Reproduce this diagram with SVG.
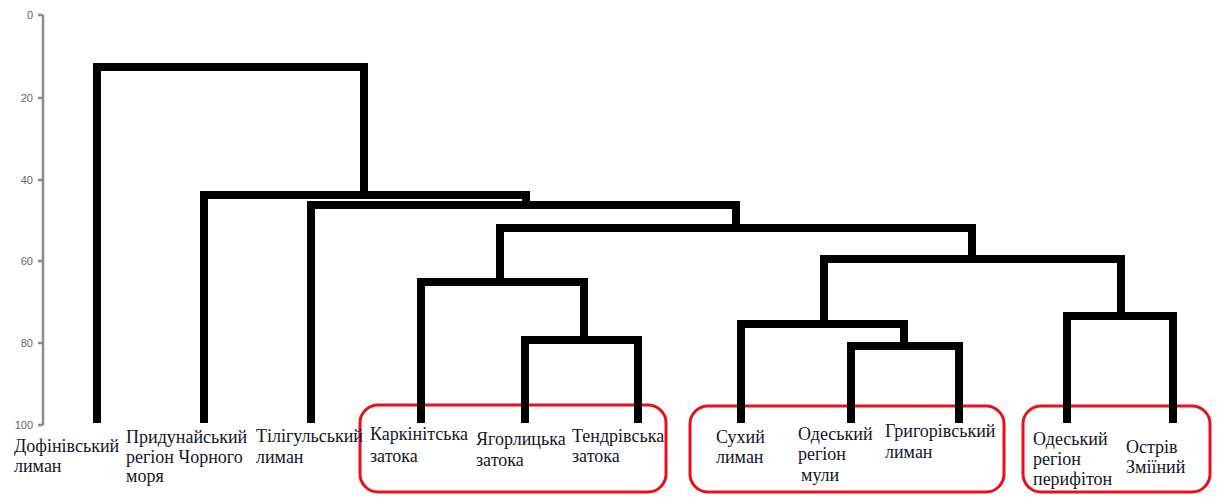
<svg xmlns="http://www.w3.org/2000/svg" width="1221" height="500" viewBox="0 0 1221 500">
<style>
.ax{stroke:#8c8c8c;stroke-width:2.5;fill:none}
.tk{font-family:"Liberation Sans",Arial,sans-serif;font-size:11px;fill:#666;text-anchor:end}
.br{stroke:#000;stroke-width:8;fill:none;stroke-linejoin:miter;stroke-linecap:butt}
.box{stroke:#e8101a;stroke-width:3;fill:none}
.lb{font-family:"Liberation Serif","Times New Roman",serif;font-size:18px;fill:#15152a}
</style>
<rect width="1221" height="500" fill="#fff"/>
<g id="axis">
<path class="ax" d="M43,15V425M38,15H43M38,98H43M38,180H43M38,261H43M38,343H43M38,425H43"/>
<text class="tk" x="33" y="19">0</text>
<text class="tk" x="33" y="102">20</text>
<text class="tk" x="33" y="184">40</text>
<text class="tk" x="33" y="265">60</text>
<text class="tk" x="33" y="347">80</text>
<text class="tk" x="33" y="429">100</text>
</g>
<g id="groups">
<rect class="box" x="360" y="405" width="306" height="87" rx="18"/>
<rect class="box" x="690" y="406" width="314" height="86" rx="18"/>
<rect class="box" x="1023" y="406" width="187" height="86" rx="18"/>
</g>
<g id="connectors">
<path class="br" d="M97,423V67H364V195"/>
<path class="br" d="M204,423V195H526V205"/>
<path class="br" d="M311,423V205H736V228"/>
<path class="br" d="M500,282V228H972V259"/>
<path class="br" d="M421,423V282H584V340"/>
<path class="br" d="M525,423V340H638V423"/>
<path class="br" d="M824,324V259H1121V316"/>
<path class="br" d="M741,423V324H904V346"/>
<path class="br" d="M851,423V346H959V423"/>
<path class="br" d="M1067,423V316H1173V423"/>
</g>
<g id="n-dofinivskyi"><text class="lb" x="14" y="452">Дофінівський<tspan x="14" y="472">лиман</tspan></text></g>
<g id="n-prydunaiskyi"><text class="lb" x="126" y="443">Придунайський<tspan x="126" y="463">регіон Чорного</tspan><tspan x="126" y="482">моря</tspan></text></g>
<g id="n-tiligulskyi"><text class="lb" x="256" y="442">Тілігульський<tspan x="256" y="463">лиман</tspan></text></g>
<g id="n-karkinitska"><text class="lb" x="370" y="440">Каркінітська<tspan x="370" y="462">затока</tspan></text></g>
<g id="n-yahorlytska"><text class="lb" x="476" y="445">Ягорлицька<tspan x="476" y="466">затока</tspan></text></g>
<g id="n-tendrivska"><text class="lb" x="572" y="442">Тендрівська<tspan x="572" y="462">затока</tspan></text></g>
<g id="n-sukhyi"><text class="lb" x="716" y="443">Сухий<tspan x="716" y="463">лиман</tspan></text></g>
<g id="n-odeskyi-muly"><text class="lb" x="798" y="440">Одеський<tspan x="798" y="460">регіон</tspan><tspan x="801" y="481">мули</tspan></text></g>
<g id="n-hryhorivskyi"><text class="lb" x="885" y="437">Григорівський<tspan x="885" y="458">лиман</tspan></text></g>
<g id="n-odeskyi-peryfiton"><text class="lb" x="1033" y="445">Одеський<tspan x="1033" y="465">регіон</tspan><tspan x="1033" y="485">перифітон</tspan></text></g>
<g id="n-ostriv"><text class="lb" x="1126" y="453">Острів<tspan x="1126" y="473">Зміїний</tspan></text></g>
</svg>
